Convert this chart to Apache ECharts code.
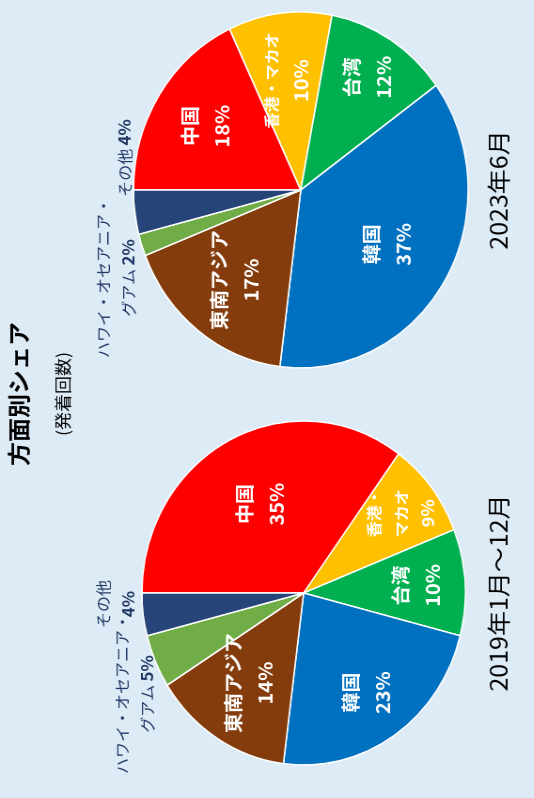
<!DOCTYPE html>
<html>
<head>
<meta charset="utf-8">
<title>方面別シェア</title>
<script src="https://cdn.jsdelivr.net/npm/echarts@6/dist/echarts.min.js"></script>
<style>
html, body { margin:0; padding:0; width:534px; height:798px; overflow:hidden; background:#DDEBF7; }
/* the whole chart is drawn upright, then turned a quarter turn to the left */
#chart { position:absolute; left:0; top:0; width:798px; height:568px; transform-origin:0 0;
         transform: translateY(798px) rotate(-90deg) scaleY(0.94); }
</style>
</head>
<body>
<div id="chart"></div>
<script>
var categories = ['中国', '香港・マカオ', '台湾', '韓国', '東南アジア', 'ハワイ・オセアニア・グアム', 'その他'];
var share2019 = [35, 9, 10, 23, 14, 5, 4];
var share2023 = [18, 10, 12, 37, 17, 2, 4];
var periods = ['2019年1月～12月', '2023年6月'];

var colors = ['#FF0000', '#FFC000', '#00B050', '#0070C0', '#843C0C', '#70AD47', '#264478'];
var font = 'Noto Sans CJK JP';
var navy = '#203864';

var pies = [
    {center: [205, 323], radius: 172},
    {center: [608, 320], radius: 178}
];

// how the names wrap in each pie
var breaks = [
    {'香港・マカオ': '香港・\nマカオ', 'ハワイ・オセアニア・グアム': 'ハワイ・オセアニア・\nグアム'},
    {'ハワイ・オセアニア・グアム': 'ハワイ・オセアニア・\nグアム'}
];
var seps = [
    {'ハワイ・オセアニア・グアム': ' '},
    {'ハワイ・オセアニア・グアム': ' ', 'その他': ' '}
];
// inside labels: distance from centre as part of radius
var labelRadius = [
    [0.58, 0.76, 0.70, 0.70, 0.62],
    [0.67, 0.62, 0.75, 0.60, 0.64]
];
// outside labels: offset from pie centre
var outside = [
    {5: [-101, -180], 6: [-11, -200]},
    {5: [-88, -197], 6: [32, -187]}
];

var rich = {
    n: {fontSize: 20, fontWeight: 'bold', color: '#fff', lineHeight: 34, fontFamily: font},
    p: {fontSize: 20, fontWeight: 'bold', color: '#fff', lineHeight: 34, fontFamily: font},
    s: {fontSize: 16, fontWeight: 'bold', color: '#fff', lineHeight: 29, fontFamily: font},
    sp: {fontSize: 18, fontWeight: 'bold', color: '#fff', lineHeight: 29, fontFamily: font},
    o: {fontSize: 16, color: navy, lineHeight: 27, fontFamily: font},
    op: {fontSize: 17, fontWeight: 'bold', color: navy, lineHeight: 27, fontFamily: font}
};

function labelText(k) {
    return function (p) {
        var name = breaks[k][p.name] || p.name;
        var sep = seps[k][p.name] || '\n';
        var pct = p.value + '%';
        if (outside[k][p.dataIndex]) return '{o|' + name + '}' + sep + '{op|' + pct + '}';
        if (p.name === '香港・マカオ') return '{s|' + name + '}' + sep + (k === 0 ? '{sp|' : '{p|') + pct + '}';
        return '{n|' + name + '}' + sep + '{p|' + pct + '}';
    };
}

function placeLabels(k) {
    return function (params) {
        var c = pies[k].center;
        var off = outside[k][params.dataIndex];
        if (off) return {x: c[0] + off[0], y: c[1] + off[1], align: 'center', verticalAlign: 'middle'};
        var r = params.labelRect;
        var vx = r.x + r.width / 2 - c[0], vy = r.y + r.height / 2 - c[1];
        var len = Math.sqrt(vx * vx + vy * vy) || 1;
        var f = labelRadius[k][params.dataIndex] * pies[k].radius / len;
        return {x: c[0] + vx * f, y: c[1] + vy * f, align: 'center', verticalAlign: 'middle'};
    };
}

function pieSeries(k, values) {
    return {
        type: 'pie',
        center: pies[k].center,
        radius: pies[k].radius,
        startAngle: 90,
        clockwise: true,
        avoidLabelOverlap: false,
        silent: true,
        itemStyle: {borderColor: '#fff', borderWidth: 1.5},
        label: {show: true, position: 'inside', formatter: labelText(k), rich: rich},
        labelLine: {show: false},
        labelLayout: placeLabels(k),
        data: categories.map(function (n, i) { return {name: n, value: values[i]}; })
    };
}

var myChart = echarts.init(document.getElementById('chart'));
var option = {
    animation: false,
    color: colors,
    title: [
        {text: '方面別シェア', left: 404, top: 8, padding: 0, textAlign: 'center',
         textStyle: {fontSize: 24, fontWeight: 'bold', color: '#000', fontFamily: font}},
        {text: '(発着回数)', left: 404, top: 58, padding: 0, textAlign: 'center',
         textStyle: {fontSize: 18, fontWeight: 'normal', color: '#000', fontFamily: font}},
        {text: periods[0], left: pies[0].center[0], top: 518, padding: 0, textAlign: 'center',
         textStyle: {fontSize: 25, fontWeight: 'normal', color: '#000', fontFamily: font}},
        {text: periods[1], left: pies[1].center[0], top: 518, padding: 0, textAlign: 'center',
         textStyle: {fontSize: 25, fontWeight: 'normal', color: '#000', fontFamily: font}}
    ],
    series: [pieSeries(0, share2019), pieSeries(1, share2023)]
};
myChart.setOption(option);
</script>
</body>
</html>
